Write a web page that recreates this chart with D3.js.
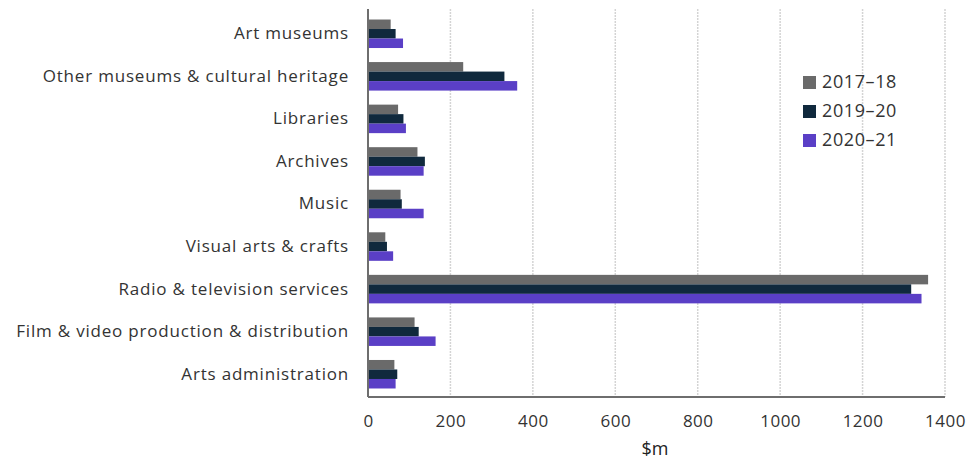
<!DOCTYPE html>
<html>
<head>
<meta charset="utf-8">
<script src="https://cdn.jsdelivr.net/npm/d3@7"></script>
<style>
  body { margin: 0; background: #fff; }
  text { font-family: "Open Sans", "Noto Sans", sans-serif; fill: #333; }
</style>
</head>
<body>
<div class="vis"></div>
<script>
// chart data
var categories = ["Art museums", "Other museums & cultural heritage", "Libraries", "Archives",
    "Music", "Visual arts & crafts", "Radio & television services",
    "Film & video production & distribution", "Arts administration"];
var seriesNames = ["2017\u201318", "2019\u201320", "2020\u201321"];
var values2017 = [55, 231, 73, 120, 79, 42, 1359, 113, 64];
var values2019 = [67, 331, 86, 138, 82, 46, 1318, 123, 71];
var values2020 = [85, 362, 92, 135, 135, 61, 1343, 164, 67];
var xTicks = [0, 200, 400, 600, 800, 1000, 1200, 1400];

var w = 968;
var h = 461;
var margin = ({top: 11, right: 23, bottom: 64, left: 368});
var colours = ["#6a6a6a", "#10293d", "#5a3fc6"];

var data = categories.map(function(c, i) {
    return {cat: c, vals: [values2017[i], values2019[i], values2020[i]]};
});

var svg = d3.select(".vis").append("svg")
    .attr("width", w)
    .attr("height", h);

var xScale = d3.scaleLinear()
    .domain([0, 1400])
    .range([margin.left, w - margin.right]);

var yScale = d3.scaleBand()
    .domain(categories)
    .range([margin.top, h - margin.bottom])
    .paddingInner(0.33)
    .paddingOuter(0.2);

var sub = d3.scaleBand()
    .domain(d3.range(3))
    .range([0, yScale.bandwidth()]);

// gridlines
svg.append("g")
    .selectAll("line")
    .data(xTicks.slice(1))
    .enter()
    .append("line")
    .attr("x1", function(d) { return xScale(d); })
    .attr("x2", function(d) { return xScale(d); })
    .attr("y1", margin.top - 2)
    .attr("y2", h - margin.bottom)
    .style("stroke", "#d4d4d4")
    .style("stroke-width", 1.5)
    .style("stroke-dasharray", "2,1");

// bars
var groups = svg.selectAll("g.cat")
    .data(data)
    .enter()
    .append("g")
    .attr("class", "cat")
    .attr("transform", function(d) { return "translate(0," + yScale(d.cat) + ")"; });

groups.selectAll("rect")
    .data(function(d) { return d.vals; })
    .enter()
    .append("rect")
    .attr("x", xScale(0))
    .attr("y", function(d, i) { return sub(i); })
    .attr("width", function(d) { return xScale(d) - xScale(0); })
    .attr("height", sub.bandwidth())
    .style("fill", function(d, i) { return colours[i]; });

// x axis
var xAxis = d3.axisBottom(xScale).tickValues(xTicks).tickFormat(d3.format("d")).tickSize(0).tickPadding(18);
var gx = svg.append("g")
    .attr("transform", "translate(0," + (h - margin.bottom) + ")")
    .call(xAxis);
gx.select(".domain").remove();
gx.selectAll("text").style("font-size", "17px").style("letter-spacing", "0.5px").style("fill", "#333");

// y axis
var yAxis = d3.axisLeft(yScale).tickSize(0).tickPadding(19);
var gy = svg.append("g")
    .attr("transform", "translate(" + margin.left + ",0)")
    .call(yAxis);
gy.select(".domain").remove();
gy.selectAll("text").style("font-size", "17px").style("letter-spacing", "0.8px").style("fill", "#333");

// axis lines
svg.append("line")
    .attr("x1", xScale(0)).attr("x2", xScale(0))
    .attr("y1", margin.top - 2).attr("y2", h - margin.bottom)
    .style("stroke", "#6e6e6e").style("stroke-width", 2);
svg.append("line")
    .attr("x1", xScale(0)).attr("x2", xScale(1400))
    .attr("y1", h - margin.bottom).attr("y2", h - margin.bottom)
    .style("stroke", "#6e6e6e").style("stroke-width", 2);

// axis title
svg.append("text")
    .attr("x", 655)
    .attr("y", 455)
    .attr("text-anchor", "middle")
    .style("font-size", "18px")
    .style("fill", "#222")
    .text("$m");

// legend
var legend = svg.append("g").attr("transform", "translate(803,76)");
seriesNames.forEach(function(s, i) {
    legend.append("rect")
        .attr("x", 0).attr("y", i * 29)
        .attr("width", 13).attr("height", 13)
        .style("fill", colours[i]);
    legend.append("text")
        .attr("x", 19).attr("y", i * 29 + 7)
        .attr("dominant-baseline", "middle")
        .style("font-size", "18px")
        .style("letter-spacing", "0.6px")
        .text(s);
});
</script>
</body>
</html>
